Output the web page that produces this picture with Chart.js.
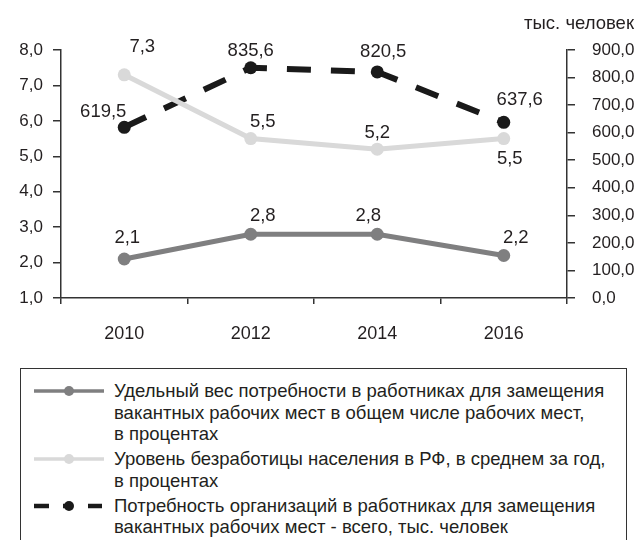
<!DOCTYPE html>
<html>
<head>
<meta charset="utf-8">
<script src="https://cdn.jsdelivr.net/npm/chart.js@4"></script>
<style>
  body { margin: 0; background: #fff; font-family: "Liberation Sans", Arial, sans-serif; color: #231f20; }
  #wrap { position: relative; width: 639px; height: 540px; overflow: hidden; }
  #unit { position: absolute; right: 5px; top: 12px; font-size: 18.5px; }
  #legend { position: absolute; left: 20px; top: 368px; width: 607px; height: 200px;
            border: 1.5px solid #333; box-sizing: border-box; padding-top: 11px; }
  .item { display: flex; margin-bottom: 3.5px; }
  .sample { width: 93px; flex: none; padding-left: 13px; box-sizing: border-box; }
  .text { font-size: 18.5px; line-height: 21.5px; white-space: nowrap; }
</style>
</head>
<body>
<div id="wrap">
  <canvas id="myChart" width="639" height="360"></canvas>
  <div id="unit">тыс. человек</div>
  <div id="legend"></div>
</div>
<script>
const years = ['2010', '2012', '2014', '2016'];
const vacancyShare = [2.1, 2.8, 2.8, 2.2];
const unemploymentRate = [7.3, 5.5, 5.2, 5.5];
const vacancyDemand = [619.5, 835.6, 820.5, 637.6];

const seriesNames = [
    ['Удельный вес потребности в работниках для замещения', 'вакантных рабочих мест в общем числе рабочих мест,', 'в процентах'],
    ['Уровень безработицы населения в РФ, в среднем за год,', 'в процентах'],
    ['Потребность организаций в работниках для замещения', 'вакантных рабочих мест - всего, тыс. человек']
];

const colors = ['#7f7f80', '#d9d9d9', '#1a1a1a'];
const fmt = v => v.toFixed(1).replace('.', ',');

// label offsets from each point, per series
const labelShift = [
    [[3, -21], [12, -18], [-9, -18], [12, -18]],
    [[18, -28], [12, -17], [0, -16], [6, 20]],
    [[-21, -15], [0, -17], [6, -20], [16, -22]]
];

const pointLabels = {
    id: 'pointLabels',
    afterDatasetsDraw(chart) {
        const ctx = chart.ctx;
        ctx.save();
        ctx.font = '18.5px "Liberation Sans", Arial, sans-serif';
        ctx.fillStyle = '#231f20';
        ctx.textAlign = 'center';
        ctx.textBaseline = 'middle';
        chart.data.datasets.forEach((ds, i) => {
            chart.getDatasetMeta(i).data.forEach((pt, j) => {
                const [dx, dy] = labelShift[i][j];
                ctx.fillText(fmt(ds.data[j]), pt.x + dx, pt.y + dy);
            });
        });
        ctx.restore();
    }
};

const axisColor = '#333';
const tickFont = { family: '"Liberation Sans", Arial, sans-serif', size: 17 };

new Chart(document.getElementById('myChart').getContext('2d'), {
    type: 'line',
    data: {
        labels: years,
        datasets: [{
            data: vacancyShare,
            yAxisID: 'y',
            borderColor: colors[0],
            backgroundColor: colors[0],
            borderWidth: 5,
            pointRadius: 6.5,
            pointBorderWidth: 0
        }, {
            data: unemploymentRate,
            yAxisID: 'y',
            borderColor: colors[1],
            backgroundColor: colors[1],
            borderWidth: 5,
            pointRadius: 6.5,
            pointBorderWidth: 0
        }, {
            data: vacancyDemand,
            yAxisID: 'y1',
            borderColor: colors[2],
            backgroundColor: colors[2],
            borderWidth: 6,
            borderDash: [24, 20],
            pointRadius: 6.5,
            pointBorderWidth: 0
        }]
    },
    options: {
        responsive: false,
        animation: false,
        layout: { padding: { top: 50, left: 0, right: 0, bottom: 0 } },
        plugins: { legend: { display: false }, tooltip: { enabled: false } },
        scales: {
            x: {
                offset: true,
                grid: { offset: true, drawOnChartArea: false, drawTicks: true, tickLength: 6, color: axisColor, lineWidth: 1.5 },
                border: { color: axisColor, width: 1.5 },
                ticks: { color: '#231f20', font: { family: tickFont.family, size: 18 }, padding: 19 },
                afterFit(s) { s.height = 62; }
            },
            y: {
                position: 'left',
                min: 1, max: 8,
                grid: { drawOnChartArea: false, tickLength: 8, color: axisColor, lineWidth: 1.5 },
                border: { color: axisColor, width: 1.5 },
                ticks: { stepSize: 1, color: '#231f20', font: tickFont, padding: 10, callback: v => fmt(v) },
                afterFit(s) { s.width = 61; }
            },
            y1: {
                position: 'right',
                min: 0, max: 900,
                grid: { drawOnChartArea: false, tickLength: 8, color: axisColor, lineWidth: 1.5 },
                border: { color: axisColor, width: 1.5 },
                ticks: { stepSize: 100, color: '#231f20', font: tickFont, padding: 17, callback: v => fmt(v) },
                afterFit(s) { s.width = 72; }
            }
        }
    },
    plugins: [pointLabels]
});

// legend
function sampleSvg(i) {
    const c = colors[i];
    let line;
    if (i === 2) {
        line = '<line x1="0" y1="11" x2="15" y2="11" stroke="' + c + '" stroke-width="4.5"/>' +
               '<line x1="54" y1="11" x2="68" y2="11" stroke="' + c + '" stroke-width="4.5"/>' +
               '<line x1="29" y1="11" x2="35" y2="11" stroke="' + c + '" stroke-width="4.5"/>';
    } else {
        line = '<line x1="0" y1="11" x2="70" y2="11" stroke="' + c + '" stroke-width="3.5"/>';
    }
    return '<svg width="70" height="22">' + line + '<circle cx="35" cy="11" r="5" fill="' + c + '"/></svg>';
}

const legend = document.getElementById('legend');
seriesNames.forEach((lines, i) => {
    const item = document.createElement('div');
    item.className = 'item';
    item.innerHTML = '<div class="sample">' + sampleSvg(i) + '</div><div class="text">' + lines.join('<br>') + '</div>';
    legend.appendChild(item);
});
</script>
</body>
</html>
